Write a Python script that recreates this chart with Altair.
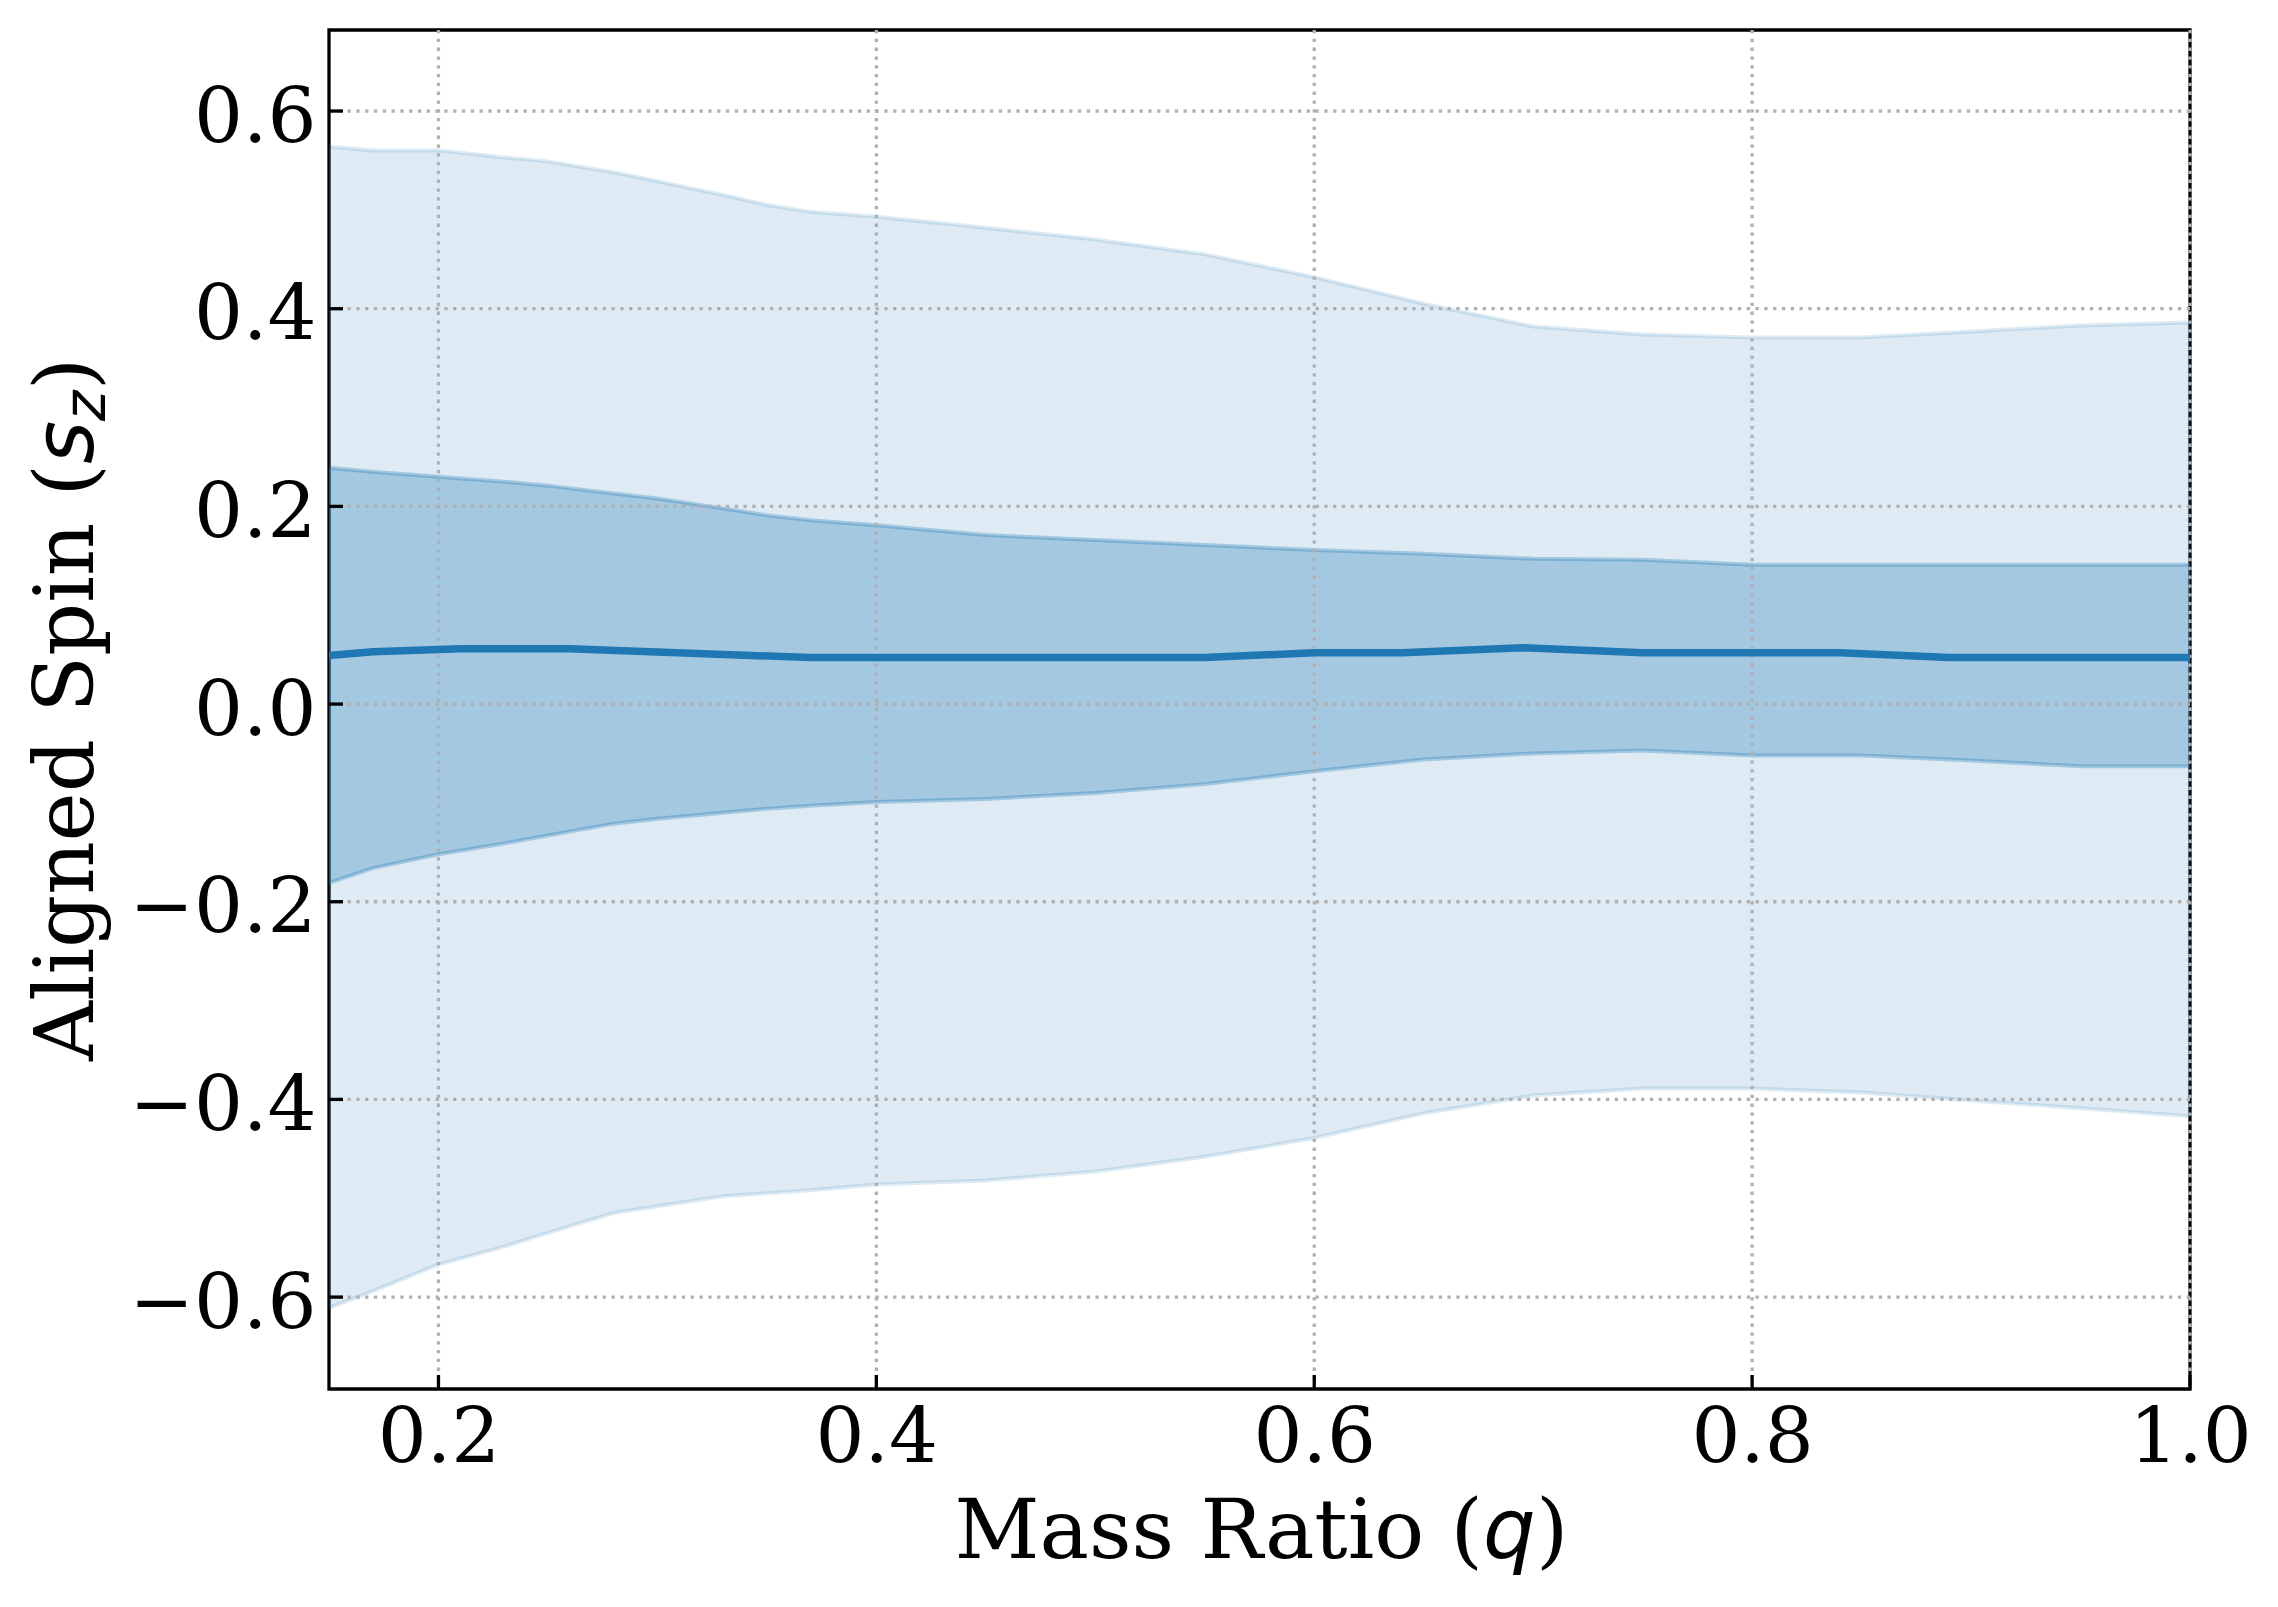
import altair as alt
import pandas as pd

# ---- data ----
q_band = [0.15, 0.17, 0.2, 0.23, 0.25, 0.28, 0.3, 0.33, 0.35, 0.37, 0.4, 0.45,
          0.5, 0.55, 0.6, 0.65, 0.7, 0.75, 0.8, 0.85, 0.9, 0.95, 1.0]
outer_hi = [0.564, 0.560, 0.560, 0.553, 0.549, 0.538, 0.529, 0.515, 0.505, 0.498, 0.493, 0.482,
            0.470, 0.455, 0.432, 0.405, 0.382, 0.374, 0.371, 0.371, 0.377, 0.383, 0.386]
outer_lo = [-0.611, -0.594, -0.567, -0.549, -0.535, -0.515, -0.508, -0.498, -0.495, -0.492, -0.486, -0.482,
            -0.473, -0.458, -0.439, -0.414, -0.396, -0.389, -0.389, -0.393, -0.401, -0.409, -0.417]
inner_hi = [0.239, 0.235, 0.230, 0.225, 0.221, 0.213, 0.208, 0.198, 0.191, 0.186, 0.181, 0.171,
            0.166, 0.161, 0.156, 0.152, 0.147, 0.146, 0.141, 0.141, 0.141, 0.141, 0.141]
inner_lo = [-0.181, -0.166, -0.152, -0.141, -0.133, -0.121, -0.116, -0.110, -0.106, -0.103, -0.099, -0.096,
            -0.090, -0.081, -0.068, -0.056, -0.050, -0.047, -0.052, -0.052, -0.057, -0.063, -0.063]

q_med = [0.15, 0.17, 0.21, 0.26, 0.37, 0.55, 0.6, 0.64, 0.695, 0.75, 0.84, 0.89, 1.0]
median = [0.049, 0.053, 0.056, 0.056, 0.047, 0.047, 0.052, 0.052, 0.057, 0.052, 0.052, 0.047, 0.047]

x_ticks = [0.2, 0.4, 0.6, 0.8, 1.0]
y_ticks = [-0.6, -0.4, -0.2, 0.0, 0.2, 0.4, 0.6]

x_domain = [0.15, 1.0]
y_domain = [-0.693, 0.682]

W, H = 1861, 1359
BLUE = "#1f77b4"
SERIF = "DejaVu Serif"
MATH = "DejaVu Sans"

bands = pd.DataFrame({"q": q_band, "ohi": outer_hi, "olo": outer_lo,
                      "ihi": inner_hi, "ilo": inner_lo})
med = pd.DataFrame({"q": q_med, "v": median})
gx = pd.DataFrame({"q": x_ticks})
gy = pd.DataFrame({"v": y_ticks})
one = pd.DataFrame({"a": [0]})

xs = alt.Scale(domain=x_domain, nice=False, zero=False)
ys = alt.Scale(domain=y_domain, nice=False, zero=False)
xax = alt.Axis(values=x_ticks, format=".1f", title=None, labelPadding=11,
               labelOverlap=False, labelFlush=False, labelLimit=0)
yax = alt.Axis(values=y_ticks, format=".1f", title=None, labelPadding=13,
               labelOffset=7, labelOverlap=False, labelFlush=False, labelLimit=0)

outer = alt.Chart(bands).mark_area(
    clip=True, color=BLUE, fillOpacity=0.15, stroke=BLUE, strokeOpacity=0.15, strokeWidth=4
).encode(
    x=alt.X("q:Q", scale=xs, axis=xax),
    y=alt.Y("olo:Q", scale=ys, axis=yax),
    y2="ohi:Q",
)
inner = alt.Chart(bands).mark_area(
    clip=True, color=BLUE, fillOpacity=0.3, stroke=BLUE, strokeOpacity=0.3, strokeWidth=4
).encode(
    x=alt.X("q:Q", scale=xs, axis=xax),
    y=alt.Y("ilo:Q", scale=ys, axis=yax),
    y2="ihi:Q",
)
grid_style = dict(color="#b0b0b0", strokeWidth=3.3, strokeDash=[3.3, 5.5])
grid_x = alt.Chart(gx).mark_rule(**grid_style).encode(
    x=alt.X("q:Q", scale=xs, axis=xax))
grid_y = alt.Chart(gy).mark_rule(**grid_style).encode(
    y=alt.Y("v:Q", scale=ys, axis=yax))

line = alt.Chart(med).mark_line(clip=True, color=BLUE, strokeWidth=7.5).encode(
    x=alt.X("q:Q", scale=xs, axis=xax),
    y=alt.Y("v:Q", scale=ys, axis=yax),
)

tick_x = alt.Chart(gx).mark_rule(color="black", strokeWidth=3.3).encode(
    x=alt.X("q:Q", scale=xs, axis=xax), y=alt.value(H), y2=alt.value(H - 14))
tick_y = alt.Chart(gy).mark_rule(color="black", strokeWidth=3.3).encode(
    y=alt.Y("v:Q", scale=ys, axis=yax), x=alt.value(0), x2=alt.value(14))

# x title: "Mass Ratio (" + italic q + ")"
XT_Y = 1528
XT_X1 = 1154
xt1 = alt.Chart(one).mark_text(text="Mass Ratio (", font=SERIF, fontSize=83, align="right",
                                baseline="alphabetic", color="black").encode(
    x=alt.value(XT_X1), y=alt.value(XT_Y))
xt2 = alt.Chart(one).mark_text(text="q", font=MATH, fontStyle="italic", fontSize=83, align="left",
                                baseline="alphabetic", color="black").encode(
    x=alt.value(XT_X1), y=alt.value(XT_Y))
xt3 = alt.Chart(one).mark_text(text=")", font=SERIF, fontSize=83, align="left",
                                baseline="alphabetic", color="black").encode(
    x=alt.value(XT_X1 + 53), y=alt.value(XT_Y))

# y title: "Aligned Spin (" + italic s + subscript z + ")"
YT_X = -236
YT_Y1 = 434
yt1 = alt.Chart(one).mark_text(text="Aligned Spin (", font=SERIF, fontSize=83, angle=270,
                                align="right", baseline="alphabetic", color="black").encode(
    x=alt.value(YT_X), y=alt.value(YT_Y1))
yt2 = alt.Chart(one).mark_text(text="s", font=MATH, fontStyle="italic", fontSize=83, angle=270,
                                align="left", baseline="alphabetic", color="black").encode(
    x=alt.value(YT_X), y=alt.value(YT_Y1))
yt3 = alt.Chart(one).mark_text(text="z", font=MATH, fontStyle="italic", fontSize=58, angle=270,
                                align="left", baseline="alphabetic", color="black").encode(
    x=alt.value(YT_X + 12), y=alt.value(YT_Y1 - 43))
yt4 = alt.Chart(one).mark_text(text=")", font=SERIF, fontSize=83, angle=270,
                                align="left", baseline="alphabetic", color="black").encode(
    x=alt.value(YT_X), y=alt.value(YT_Y1 - 74))

chart = alt.layer(
    outer, inner, grid_x, grid_y, line, tick_x, tick_y,
    xt1, xt2, xt3, yt1, yt2, yt3, yt4,
).properties(
    width=W, height=H,
    autosize=alt.AutoSizeParams(type="none"),
    padding={"left": 321, "top": 22, "right": 80, "bottom": 210},
    background="white",
).configure_view(
    stroke="black", strokeWidth=3.3
).configure_axis(
    labelFont=SERIF, labelFontSize=77, labelColor="black",
    grid=False, ticks=False, domain=False,
)

chart.save("out.html", embed_options={"renderer": "svg", "actions": False})
